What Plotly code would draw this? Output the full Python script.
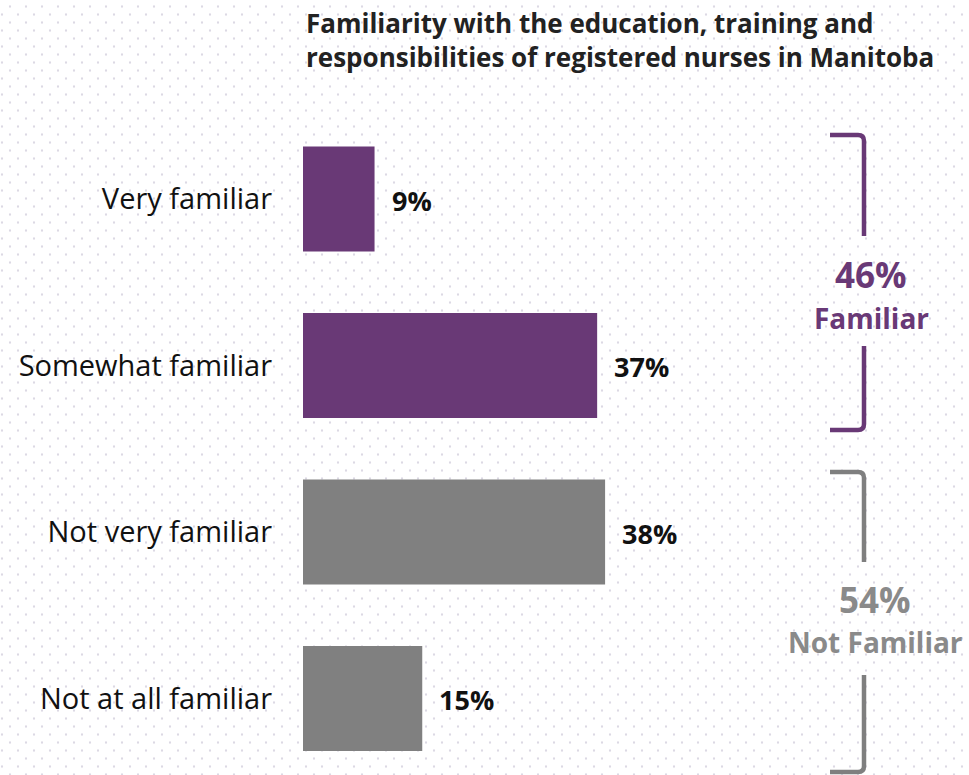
import numpy as np
import plotly.graph_objects as go

# Survey responses
categories = ["Very familiar", "Somewhat familiar", "Not very familiar", "Not at all familiar"]
values = [9, 37, 38, 15]
bar_colors = ["#693976", "#693976", "#808080", "#808080"]

# Grouped totals shown beside the brackets
group_totals = [46, 54]
group_names = ["Familiar", "Not Familiar"]
group_colors = ["#693976", "#8a8a8a"]

title_lines = [
    "Familiarity with the education, training and",
    "responsibilities of registered nurses in Manitoba",
]

W, H = 969, 775
FONT = "Open Sans"

fig = go.Figure()

# Dotted paper texture (staggered grid) on a full-page axis measured in pixels
gx, gy = [], []
for r, yy in enumerate(np.arange(6.5, H, 8.0)):
    start = 10 if r % 2 == 0 else 2
    for xx in np.arange(start, W, 16.0):
        gx.append(xx)
        gy.append(yy)
fig.add_trace(go.Scatter(
    x=gx, y=gy, mode="markers", xaxis="x", yaxis="y",
    marker=dict(size=2.1, color="#dcd9e4", symbol="square", line=dict(width=0)),
    hoverinfo="skip", showlegend=False,
))

# Bars (own axis pair, drawn over the texture)
fig.add_trace(go.Bar(
    y=categories, x=values, orientation="h", xaxis="x2", yaxis="y2",
    marker=dict(color=bar_colors, line=dict(width=0)),
    width=0.63, showlegend=False, hoverinfo="skip",
))

# Value labels beside each bar
for c, v in zip(categories, values):
    fig.add_annotation(
        x=v, y=c, xref="x2", yref="y2", text=f"<b>{v}%</b>",
        showarrow=False, xanchor="left", yanchor="middle", xshift=15, yshift=-1,
        font=dict(family=FONT, size=27, color="#111111"),
    )

# Title (two lines in one block)
fig.add_annotation(
    x=304, y=3, xref="x", yref="y", xanchor="left", yanchor="top",
    text="<b>" + "<br>".join(title_lines) + "</b>", align="left",
    showarrow=False, font=dict(family=FONT, size=26, color="#222222"),
)

# Brackets on the right
def bracket(y0, y1, gap0, gap1, color, x_right=864, x_left=830):
    path = (f"M {x_left},{y0} L {x_right - 6},{y0} Q {x_right},{y0} {x_right},{y0 + 6} "
            f"L {x_right},{gap0} M {x_right},{gap1} L {x_right},{y1 - 6} "
            f"Q {x_right},{y1} {x_right - 6},{y1} L {x_left},{y1}")
    fig.add_shape(type="path", path=path, xref="x", yref="y",
                  line=dict(color=color, width=4.5), layer="above")

bracket(135, 430, 236, 346, "#693976")
bracket(472, 772, 562, 675, "#7f7f7f")

label_pos = [(871, 274, 318), (875, 599, 642)]
for (cx, y_pct, y_name), tot, name, col in zip(label_pos, group_totals, group_names, group_colors):
    fig.add_annotation(x=cx, y=y_pct, xref="x", yref="y", text=f"<b>{tot}%</b>",
                       showarrow=False, font=dict(family=FONT, size=35, color=col))
    fig.add_annotation(x=cx, y=y_name, xref="x", yref="y", text=f"<b>{name}</b>",
                       showarrow=False, font=dict(family=FONT, size=28, color=col))

# Bar axis placed so one percent spans ~7.95 px starting at x=303
px_per_pct = 7.95
x_max = 70
x0 = 303
step = 166.5
c0 = 199
y_top = -c0 / step
y_bot = (H - c0) / step

fig.update_layout(
    width=W, height=H,
    margin=dict(l=0, r=0, t=0, b=0),
    paper_bgcolor="white", plot_bgcolor="rgba(0,0,0,0)",
    xaxis=dict(domain=[0, 1], range=[0, W], visible=False, fixedrange=True),
    yaxis=dict(domain=[0, 1], range=[H, 0], visible=False, fixedrange=True),
    xaxis2=dict(domain=[x0 / W, (x0 + x_max * px_per_pct) / W], range=[0, x_max],
                visible=False, fixedrange=True, anchor="y2"),
    yaxis2=dict(domain=[0, 1], range=[y_bot, y_top], type="category",
                categoryorder="array", categoryarray=categories, anchor="x2",
                showgrid=False, zeroline=False, showline=False, ticks="",
                ticklabelstandoff=30, automargin=False, fixedrange=True,
                tickfont=dict(family=FONT, size=29, color="#111111")),
    showlegend=False,
)

fig.write_html("out.html")
